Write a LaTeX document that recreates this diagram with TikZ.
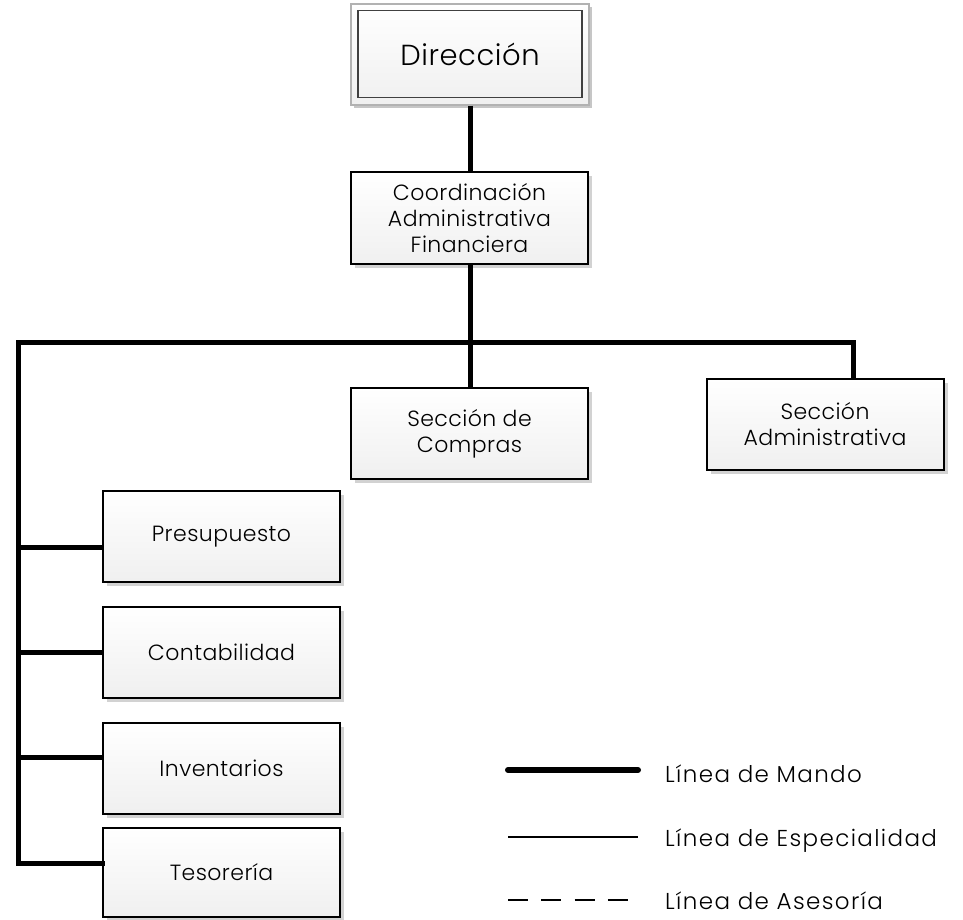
\documentclass[tikz,border=0pt]{standalone}
\usepackage{fontspec}
\setmainfont{Poppins Light}
\usetikzlibrary{shadows}
\tikzset{
  orgbox/.style={draw=black, line width=2pt, top color=white, bottom color=gray!12,
    minimum width=237pt, minimum height=91pt, inner sep=0pt, align=center,
    font=\fontsize{22}{26}\selectfont\addfontfeature{LetterSpace=2},
    drop shadow={shadow xshift=4pt, shadow yshift=-4pt, fill=gray!35, opacity=1}},
  mando/.style={line width=5pt, line join=miter, line cap=rect},
  legtext/.style={anchor=base west, font=\fontsize{23}{26}\selectfont\addfontfeature{LetterSpace=6}, inner sep=0pt}
}
\begin{document}
\begin{tikzpicture}[x=1pt, y=-1pt]
\useasboundingbox (0,0) rectangle (963,919);
% Direccion (double frame)
\node[draw=gray!60, line width=2pt, top color=white, bottom color=gray!12,
  minimum width=238pt, minimum height=101pt, inner sep=0pt,
  drop shadow={shadow xshift=3pt, shadow yshift=-3pt, fill=gray!45, opacity=1}]
  (dir) at (470,54) {};
\node[draw=black!75, line width=1.5pt, minimum width=224pt, minimum height=87pt,
  inner sep=0pt, font=\fontsize{29}{32}\selectfont\addfontfeature{LetterSpace=2}] (dirin) at (dir.center) {Dirección};
% boxes
\node[orgbox, minimum height=92pt] (coord) at (469.5,218) {Coordinación\\Administrativa\\Financiera};
\node[orgbox] (compras) at (469.5,433.5) {Sección de\\Compras};
\node[orgbox] (admin) at (825,424) {Sección\\Administrativa};
\node[orgbox] (pres) at (221.5,536.5) {Presupuesto};
\node[orgbox] (cont) at (221.5,652) {Contabilidad};
\node[orgbox] (inv) at (221.5,768) {Inventarios};
\node[orgbox, minimum height=89pt] (tes) at (221.5,872.5) {Tesorería};
% connector coordinates
\coordinate (barL) at (18,342);
\coordinate (barM) at (470,342);
\coordinate (barR) at (853,342);
\coordinate (bP) at (18,547);
\coordinate (bC) at (18,652);
\coordinate (bI) at (18,757);
\coordinate (bT) at (18,863);
% connectors
\draw[mando, line cap=butt] (dir.south -| barM) -- (coord.north -| barM);
\draw[mando, line cap=butt] (coord.south -| barM) -- (compras.north -| barM);
\draw[mando] (bT -| tes.west) -- (bT) -- (barL) -- (barR) -- (barR |- admin.north);
\draw[mando, line cap=butt] (bP) -- (bP -| pres.west);
\draw[mando, line cap=butt] (bC) -- (bC -| cont.west);
\draw[mando, line cap=butt] (bI) -- (bI -| inv.west);
% legend
\coordinate (l1a) at (508,770); \coordinate (l1b) at (638,770);
\coordinate (l2a) at (508,837); \coordinate (l2b) at (638,837);
\coordinate (l3a) at (508,900); \coordinate (l3b) at (638,900);
\draw[line width=6pt, line cap=round] (l1a) -- (l1b);
\draw[line width=2pt] (l2a) -- (l2b);
\draw[line width=2pt, dash pattern=on 20pt off 13.3pt] (l3a) -- (l3b);
\node[legtext] (t1) at (665,782) {Línea de Mando};
\node[legtext] (t2) at (665,846) {Línea de Especialidad};
\node[legtext] (t3) at (665,909) {Línea de Asesoría};
\end{tikzpicture}
\end{document}
